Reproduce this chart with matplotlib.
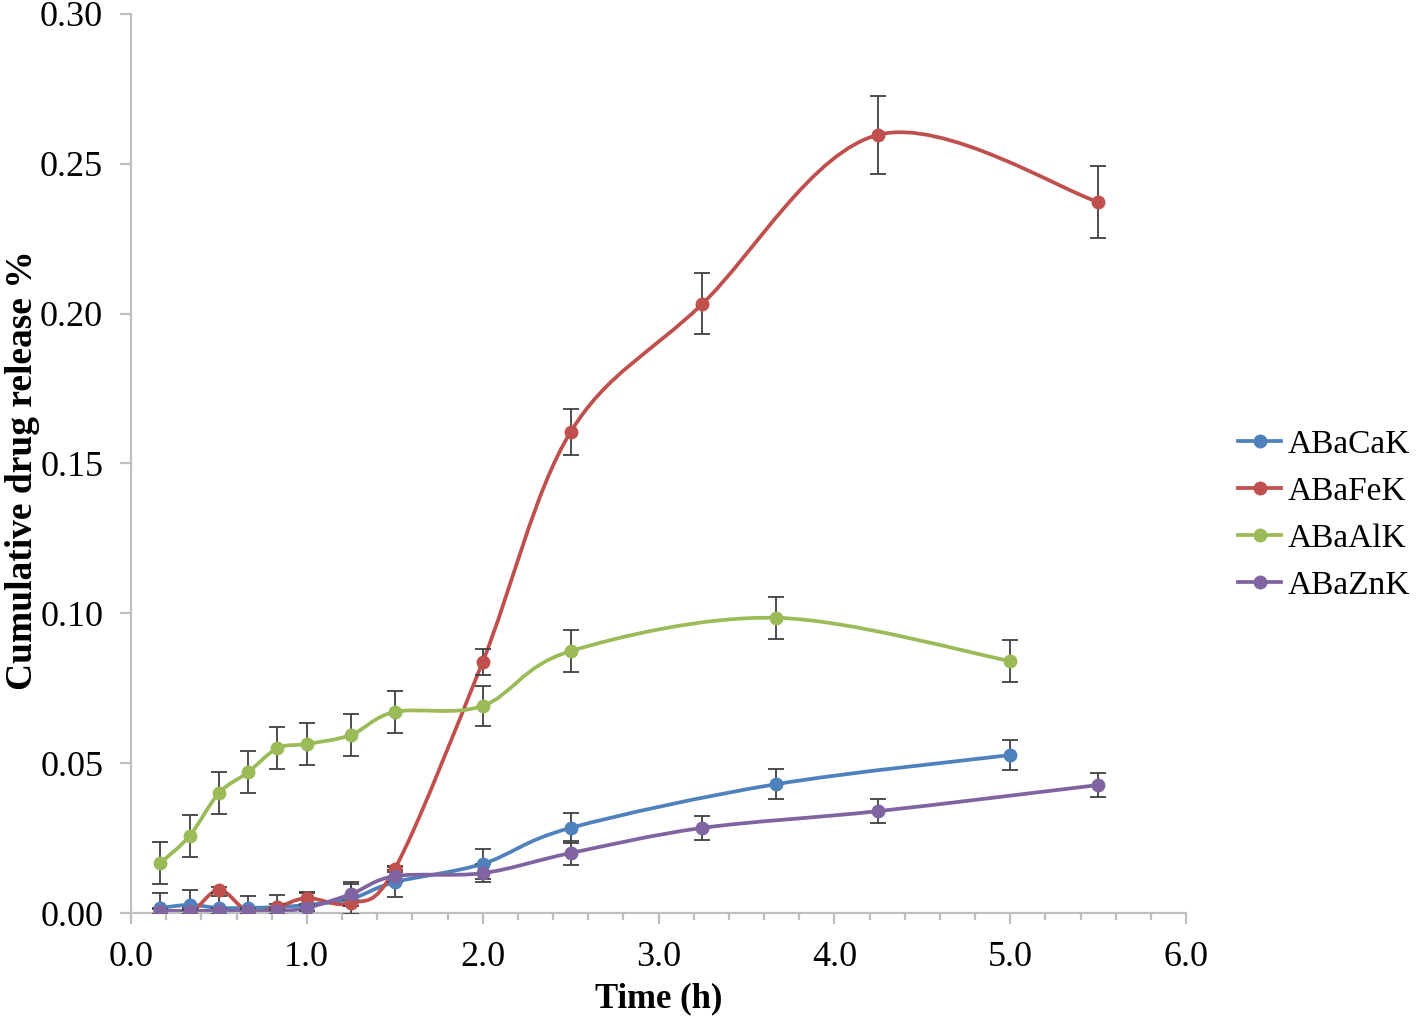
import numpy as np
import matplotlib
matplotlib.use("Agg")
import matplotlib.pyplot as plt
from matplotlib.path import Path
from matplotlib.patches import PathPatch
from matplotlib.lines import Line2D
from matplotlib.ticker import MultipleLocator, FormatStrFormatter

plt.rcParams['font.family'] = ['Liberation Serif', 'DejaVu Serif']

# 时间点 (h)
t_short = [0.167, 0.333, 0.5, 0.667, 0.833, 1.0, 1.25, 1.5, 2.0, 2.5, 3.67, 5.0]
t_long = [0.167, 0.333, 0.5, 0.667, 0.833, 1.0, 1.25, 1.5, 2.0, 2.5, 3.25, 4.25, 5.5]

# 累计释放量及误差
ca_y = [0.0017, 0.0027, 0.0017, 0.0017, 0.0020, 0.0027, 0.0047, 0.0103, 0.0164, 0.0284, 0.0430, 0.0527]
ca_err = [0.005, 0.005, 0.004, 0.004, 0.004, 0.004, 0.005, 0.005, 0.005, 0.005, 0.005, 0.005]

fe_y = [0.0003, 0.0000, 0.0077, 0.0005, 0.0020, 0.0050, 0.0033, 0.0147, 0.0838, 0.1605, 0.2033, 0.2597, 0.2373]
fe_err = [0.001, 0.001, 0.001, 0.001, 0.001, 0.002, 0.001, 0.001, 0.0043, 0.0078, 0.0102, 0.0130, 0.0120]

al_y = [0.0167, 0.0257, 0.0400, 0.0470, 0.0550, 0.0564, 0.0594, 0.0671, 0.0691, 0.0874, 0.0985, 0.0841]
al_err = [0.007, 0.007, 0.007, 0.007, 0.007, 0.007, 0.007, 0.007, 0.0067, 0.007, 0.007, 0.007]

zn_y = [0.0007, 0.0007, 0.0007, 0.0007, 0.0007, 0.0017, 0.0063, 0.0123, 0.0133, 0.0200, 0.0284, 0.0340, 0.0427]
zn_err = [0.001, 0.001, 0.001, 0.001, 0.001, 0.001, 0.004, 0.002, 0.003, 0.004, 0.004, 0.004, 0.004]

series = [
    ("ABaCaK", t_short, ca_y, ca_err, "#4F81BD"),
    ("ABaFeK", t_long, fe_y, fe_err, "#C0504D"),
    ("ABaAlK", t_short, al_y, al_err, "#9BBB59"),
    ("ABaZnK", t_long, zn_y, zn_err, "#8064A2"),
]


def smooth_path(x, y):
    # 类似Excel的平滑曲线
    pts = np.column_stack([x, y]).astype(float)
    n = len(pts)
    verts = [pts[0]]
    codes = [Path.MOVETO]
    for i in range(n - 1):
        p0 = pts[i - 1] if i > 0 else pts[i]
        p1 = pts[i]
        p2 = pts[i + 1]
        p3 = pts[i + 2] if i + 2 < n else pts[i + 1]
        verts += [p1 + (p2 - p0) / 6, p2 - (p3 - p1) / 6, p2]
        codes += [Path.CURVE4] * 3
    return Path(verts, codes)


fig = plt.figure(figsize=(14.18, 10.21), dpi=100)
ax = fig.add_axes([131 / 1418, 1 - 913 / 1021, (1186 - 131) / 1418, (913 - 14) / 1021])

axis_color = "#BFBFBF"
handles = []
for name, t, y, err, color in series:
    ax.add_patch(PathPatch(smooth_path(t, y), facecolor="none", edgecolor=color, lw=2.7, zorder=2))
    ax.errorbar(t, y, yerr=err, fmt="none", ecolor="#404040", elinewidth=1.3, capsize=6, capthick=1.3, zorder=3)
    ax.plot(t, y, "o", color=color, markersize=9, zorder=4)
    handles.append(Line2D([], [], color=color, lw=2.7, marker="o", markersize=9))

ax.set_xlim(0, 6)
ax.set_ylim(0, 0.30)
ax.xaxis.set_major_locator(MultipleLocator(1.0))
ax.xaxis.set_minor_locator(MultipleLocator(0.2))
ax.yaxis.set_major_locator(MultipleLocator(0.05))
ax.xaxis.set_major_formatter(FormatStrFormatter("%.1f"))
ax.yaxis.set_major_formatter(FormatStrFormatter("%.2f"))

for s in ["top", "right"]:
    ax.spines[s].set_visible(False)
for s in ["left", "bottom"]:
    ax.spines[s].set_color(axis_color)
    ax.spines[s].set_linewidth(1.6)

ax.tick_params(axis="both", which="major", direction="out", length=8, width=1.6,
               color=axis_color, labelsize=26, pad=12)
ax.tick_params(axis="x", which="minor", direction="out", length=5, width=1.6, color=axis_color)

ax.set_xlabel("Time (h)", fontsize=25, fontweight="bold", labelpad=6)
ax.set_ylabel("Cumulative drug release %", fontsize=27, fontweight="bold", va="center")
ax.yaxis.set_label_coords((23 - 131) / 1055, (913 - 470) / 899)

fig.legend(handles, [s[0] for s in series], loc="center left",
           bbox_to_anchor=(1238 / 1418, 1 - 515 / 1021), frameon=False,
           fontsize=24, handlelength=1.3, handletextpad=0.2, labelspacing=0.5,
           borderpad=0, borderaxespad=0)

fig.savefig("out.png", dpi=100)
